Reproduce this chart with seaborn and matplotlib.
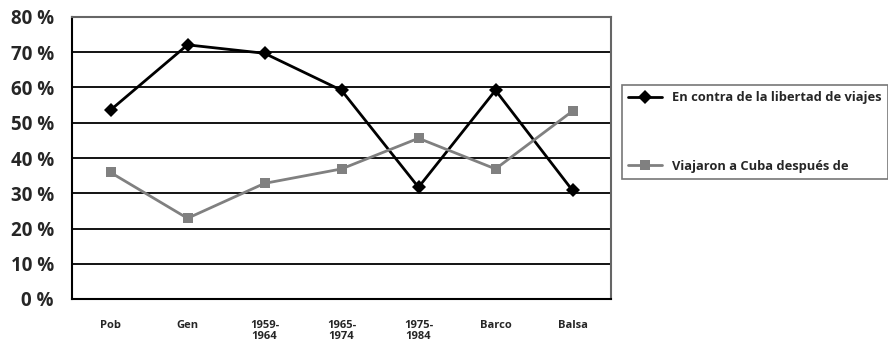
import matplotlib
matplotlib.use("Agg")
import matplotlib.pyplot as plt
import seaborn as sns
import pandas as pd
from matplotlib.lines import Line2D
from matplotlib.ticker import FixedLocator

categories = ["Pob", "Gen", "1959-\n1964", "1965-\n1974", "1975-\n1984", "Barco", "Balsa"]
contra_libertad = [53.6, 72.1, 69.7, 59.2, 31.7, 59.2, 30.8]
viajaron_cuba = [35.9, 22.9, 32.8, 36.9, 45.6, 36.9, 53.3]
series_names = ["En contra de la libertad de viajes", "Viajaron a Cuba después de"]
y_ticks = [0, 10, 20, 30, 40, 50, 60, 70, 80]

df = pd.DataFrame({
    "cat": categories * 2,
    "val": contra_libertad + viajaron_cuba,
    "serie": [series_names[0]] * len(categories) + [series_names[1]] * len(categories),
})

sns.set_theme(style="white")
plt.rcParams["font.family"] = ["Open Sans", "DejaVu Sans"]

fig = plt.figure(figsize=(8.88, 3.44), dpi=100)
ax = fig.add_axes([72 / 888, 45 / 344, (611 - 72) / 888, (299 - 17) / 344])

palette = {series_names[0]: "#000000", series_names[1]: "#808080"}
markers = {series_names[0]: "D", series_names[1]: "s"}
sns.lineplot(data=df, x="cat", y="val", hue="serie", style="serie",
             palette=palette, markers=markers, dashes=False, sort=False,
             linewidth=2, markersize=7.5, markeredgewidth=0, ax=ax, legend=False)

ax.set_xlim(-0.5, len(categories) - 0.5)
ax.set_ylim(0, 80)
ax.set_yticks(y_ticks)
ax.set_yticklabels([f"{v} %" for v in y_ticks], fontsize=13.5, fontweight="bold")
for v in y_ticks[1:-1]:
    ax.axhline(v, color="#000000", linewidth=1.3, zorder=0)

ax.set_xticks(range(len(categories)))
ax.set_xticklabels(categories, fontsize=8, fontweight="bold", linespacing=1.05)
ax.xaxis.set_minor_locator(FixedLocator([i + 0.5 for i in range(-1, len(categories))]))
ax.tick_params(axis="x", which="major", length=0, pad=15)
ax.tick_params(axis="x", which="minor", length=5, width=1.2, color="black", direction="inout")
ax.tick_params(axis="y", which="major", length=6, width=1.2, color="black", direction="inout", pad=10)
ax.set_xlabel("")
ax.set_ylabel("")

for side in ["left", "bottom"]:
    ax.spines[side].set_color("#000000")
    ax.spines[side].set_linewidth(1.5)
for side in ["top", "right"]:
    ax.spines[side].set_color("#666666")
    ax.spines[side].set_linewidth(1.5)

handles = [
    Line2D([], [], color="#000000", marker="D", markersize=7.5, markeredgewidth=0, linewidth=2),
    Line2D([], [], color="#808080", marker="s", markersize=7.5, markeredgewidth=0, linewidth=2),
]
leg = fig.legend(handles, series_names, loc="upper left",
                 bbox_to_anchor=(622 / 888, 1 - 85 / 344),
                 frameon=True, fancybox=False, borderpad=0.5, labelspacing=4.3,
                 handlelength=2.6, handletextpad=0.8, borderaxespad=0,
                 prop={"size": 9.3, "weight": "bold"})
leg.get_frame().set_edgecolor("#555555")
leg.get_frame().set_linewidth(1.2)

fig.savefig("out.png", dpi=100, facecolor="white")
